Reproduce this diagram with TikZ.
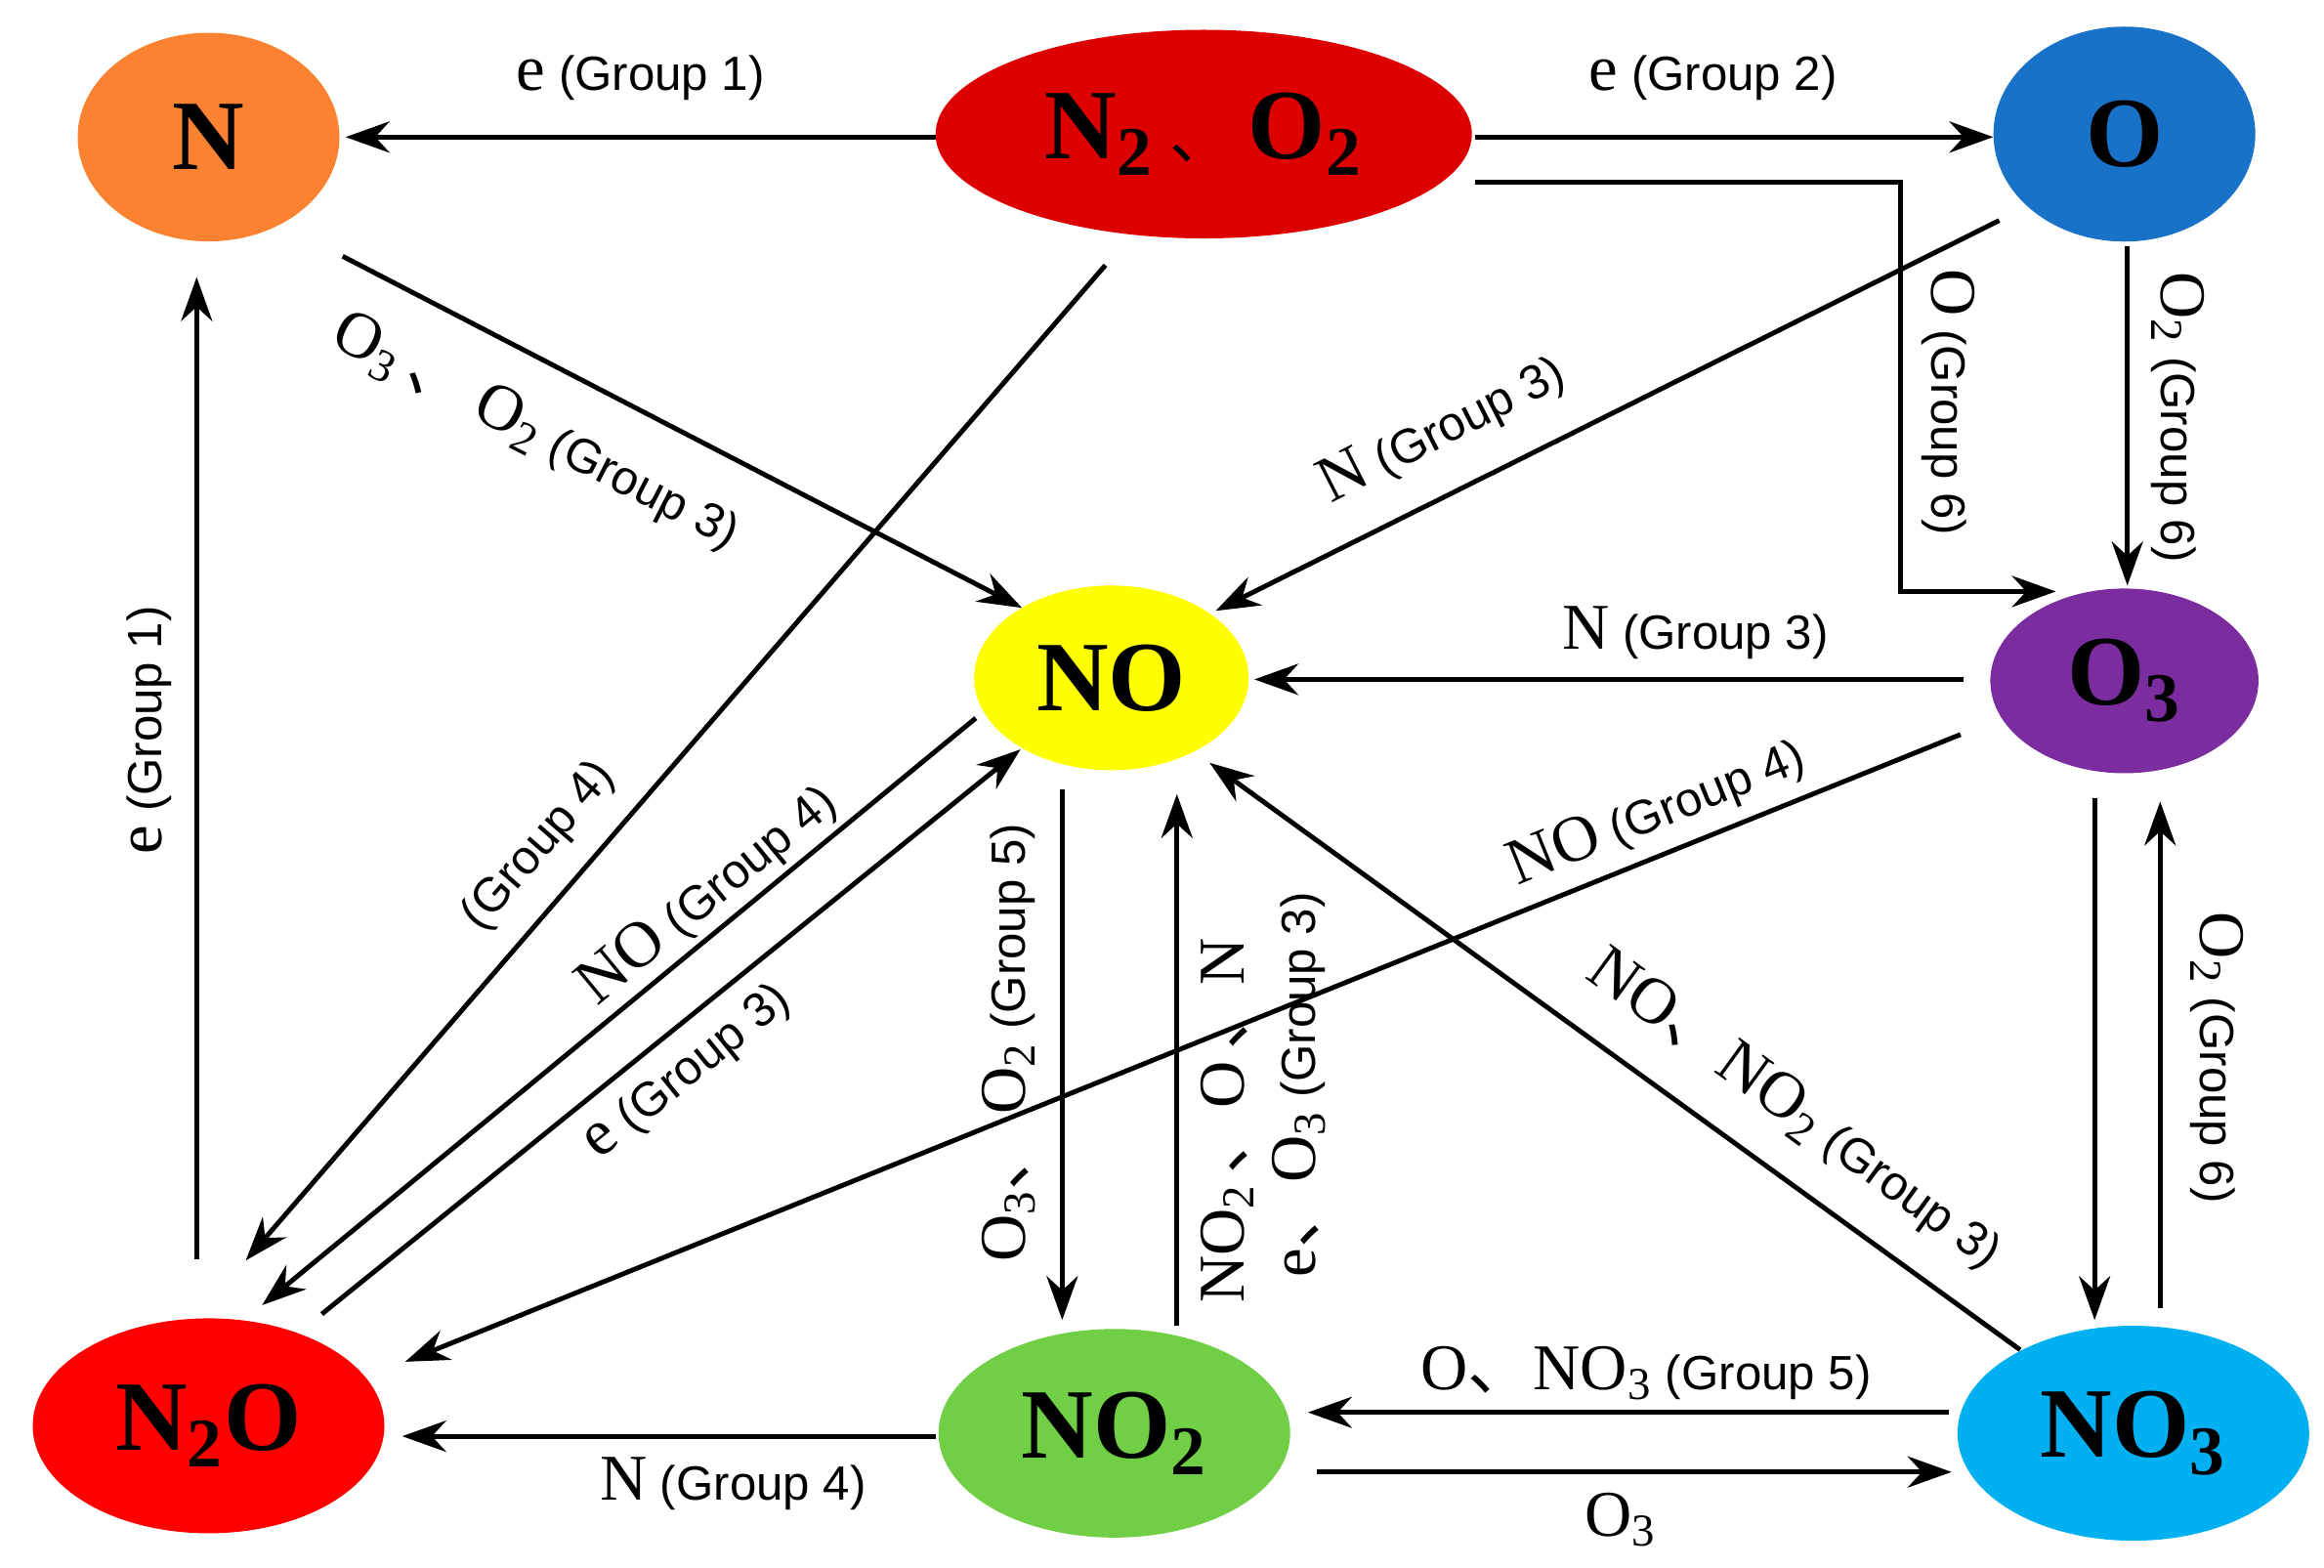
\documentclass[tikz,border=0pt]{standalone}
\usepackage{fontspec}
\setmainfont{Liberation Sans}
\newfontfamily\tnr{Liberation Serif}
\newfontfamily\cjk{Noto Sans CJK SC}
\usetikzlibrary{arrows.meta,shapes.geometric}
\newcommand\sr[1]{{\fontsize{19}{19}\selectfont\tnr #1}}
\newcommand\dun{{\cjk 、}}
\newcommand\bdun{{\cjk\mdseries\fontsize{18}{18}\selectfont 、}}
\definecolor{cN}{HTML}{FA8230}
\definecolor{cNN}{HTML}{DD0000}
\definecolor{cO}{HTML}{1872C8}
\definecolor{cNO}{HTML}{FFFF00}
\definecolor{cO3}{HTML}{7B2DA0}
\definecolor{cN2O}{HTML}{FF0000}
\definecolor{cNO2}{HTML}{70CF45}
\definecolor{cNO3}{HTML}{00B0F0}
\begin{document}
\begin{tikzpicture}[x=0.1525mm,y=-0.1525mm,
  sp/.style={ellipse,draw=none,inner sep=0pt,font=\fontsize{29}{29}\selectfont\tnr\bfseries},
  ar/.style={line width=1.4pt,-{Stealth[length=4.5mm,width=3.2mm]}},
  lab/.style={font=\fontsize{14}{14}\selectfont,inner sep=1pt}]
\useasboundingbox (0,0) rectangle (1560,1052);
\node[sp,fill=cN,minimum width=26.8mm,minimum height=21.35mm] (N) at (140,92) {N};
\node[sp,fill=cNN,minimum width=54.9mm,minimum height=21.35mm] (NN) at (808,90) {N\textsubscript{2}\,\bdun\,O\textsubscript{2}};
\node[sp,fill=cO,minimum width=26.8mm,minimum height=22mm] (O) at (1426,90) {O};
\node[sp,fill=cNO,minimum width=28.1mm,minimum height=18.9mm] (NO) at (746,455) {NO};
\node[sp,fill=cO3,minimum width=27.45mm,minimum height=18.9mm] (O3) at (1426,457) {O\textsubscript{3}};
\node[sp,fill=cN2O,minimum width=36mm,minimum height=22mm] (N2O) at (140,957) {N\textsubscript{2}O};
\node[sp,fill=cNO2,minimum width=36mm,minimum height=21.35mm] (NO2) at (748,962) {NO\textsubscript{2}};
\node[sp,fill=cNO3,minimum width=36mm,minimum height=22mm] (NO3) at (1432,962) {NO\textsubscript{3}};
% edges
\draw[ar] ([shift={(-180,2)}]NN.center) -- ([shift={(92,0)}]N.center);
\draw[ar] ([shift={(182,2)}]NN.center) -- ([shift={(-88,2)}]O.center);
\draw[ar] ([shift={(182,32)}]NN.center) -- ++(286,0) |- ([shift={(-46,-60)}]O3.center);
\draw[ar] ([shift={(2,75)}]O.center) -- ([shift={(2,-64)}]O3.center);
\draw[ar] ([shift={(90,80)}]N.center) -- ([shift={(-60,-47)}]NO.center);
\draw[ar] ([shift={(-84,58)}]O.center) -- ([shift={(70,-45)}]NO.center);
\draw[ar] ([shift={(-66,88)}]NN.center) -- ([shift={(25,-111)}]N2O.center);
\draw[ar] ([shift={(-108,-1)}]O3.center) -- ([shift={(96,1)}]NO.center);
\draw[ar] ([shift={(-91,27)}]NO.center) -- ([shift={(36,-81)}]N2O.center);
\draw[ar] ([shift={(76,-75)}]N2O.center) -- ([shift={(-61,48)}]NO.center);
\draw[ar] ([shift={(-110,36)}]O3.center) -- ([shift={(132,-43)}]N2O.center);
\draw[ar] ([shift={(-76,-56)}]NO3.center) -- ([shift={(66,57)}]NO.center);
\draw[ar] ([shift={(-33,75)}]NO.center) -- ([shift={(-35,-76)}]NO2.center);
\draw[ar] ([shift={(42,-72)}]NO2.center) -- ([shift={(44,78)}]NO.center);
\draw[ar] ([shift={(-20,79)}]O3.center) -- ([shift={(-26,-76)}]NO3.center);
\draw[ar] ([shift={(18,-84)}]NO3.center) -- ([shift={(24,81)}]O3.center);
\draw[ar] ([shift={(-8,-112)}]N2O.center) -- ([shift={(-8,94)}]N.center);
\draw[ar] ([shift={(-120,2)}]NO2.center) -- ([shift={(130,7)}]N2O.center);
\draw[ar] ([shift={(-124,-14)}]NO3.center) -- ([shift={(130,-14)}]NO2.center);
\draw[ar] ([shift={(136,26)}]NO2.center) -- ([shift={(-122,26)}]NO3.center);
% labels
\node[lab] (l1) at (430,52) {\sr{e} (Group 1)};
\node[lab] (l2) at (1150,52) {\sr{e} (Group 2)};
\node[lab,rotate=-90] (l3) at (1308,270) {\sr{O} (Group 6)};
\node[lab,rotate=-90] (l4) at (1462,280) {\sr{O\textsubscript{2}} (Group 6)};
\node[lab,rotate=-27] (l5) at (360,290) {\sr{O\textsubscript{3}\,\dun\,O\textsubscript{2}} (Group 3)};
\node[lab,rotate=27] (l6) at (968,288) {\sr{N} (Group 3)};
\node[lab,rotate=49] (l7) at (362,568) {(Group 4)};
\node[lab] (l8) at (1138,425) {\sr{N} (Group 3)};
\node[lab,rotate=39.5] (l9) at (475,600) {\sr{NO} (Group 4)};
\node[lab,rotate=39] (l10) at (462,720) {\sr{e} (Group 3)};
\node[lab,rotate=22] (l11) at (1112,545) {\sr{NO} (Group 4)};
\node[lab,rotate=-36] (l12) at (1205,745) {\sr{NO\dun NO\textsubscript{2}} (Group 3)};
\node[lab,rotate=90] (l13) at (677,700) {\sr{O\textsubscript{3}\dun\,O\textsubscript{2}} (Group 5)};
\node[lab,rotate=90] (l14a) at (824,752) {\sr{NO\textsubscript{2}\,\dun O\,\dun N}};
\node[lab,rotate=90] (l14b) at (872,728) {\sr{e\dun O\textsubscript{3}} (Group 3)};
\node[lab,rotate=-90] (l16) at (1488,710) {\sr{O\textsubscript{2}} (Group 6)};
\node[lab,rotate=90] (l17) at (100,490) {\sr{e} (Group 1)};
\node[lab] (l18) at (492,996) {\sr{N} (Group 4)};
\node[lab] (l19) at (1105,922) {\sr{O\dun NO\textsubscript{3}} (Group 5)};
\node[lab] (l20) at (1088,1020) {\sr{O\textsubscript{3}}};
\end{tikzpicture}
\end{document}
